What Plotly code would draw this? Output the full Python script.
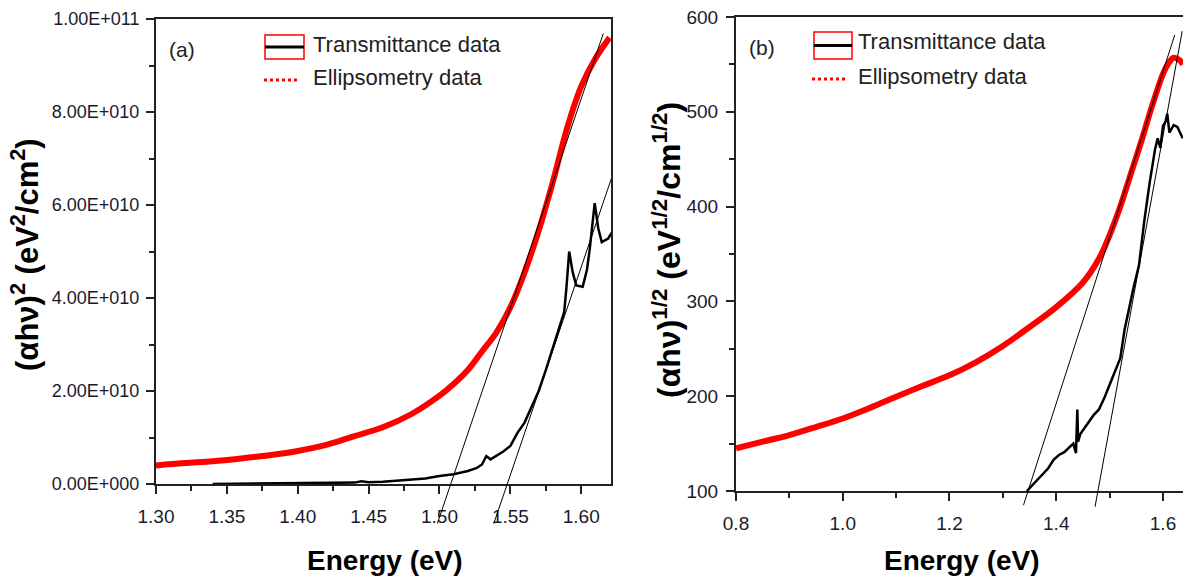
import plotly.graph_objects as go

W, H = 1183, 584

# ---------------- data : panel (a) ----------------
E_ell_a = [1.30, 1.32, 1.34, 1.36, 1.38, 1.40, 1.42, 1.44, 1.46, 1.48, 1.50, 1.51,
           1.52, 1.53, 1.54, 1.55, 1.56, 1.57, 1.58, 1.59, 1.60, 1.61, 1.62]
ell_a = [0.40e10, 0.45e10, 0.49e10, 0.55e10, 0.62e10, 0.71e10, 0.84e10, 1.03e10,
         1.22e10, 1.50e10, 1.90e10, 2.15e10, 2.45e10, 2.85e10, 3.25e10, 3.80e10,
         4.55e10, 5.45e10, 6.50e10, 7.65e10, 8.55e10, 9.15e10, 9.60e10]

E_tr_a = [1.340, 1.360, 1.380, 1.400, 1.420, 1.440, 1.445, 1.450, 1.460, 1.475, 1.490,
          1.500, 1.510, 1.520, 1.526, 1.530, 1.533, 1.536, 1.540, 1.545, 1.550, 1.555,
          1.560, 1.565, 1.570, 1.575, 1.580, 1.585, 1.588, 1.5895, 1.5915, 1.594,
          1.5965, 1.601, 1.604, 1.606, 1.6085, 1.6095, 1.612, 1.6145, 1.619, 1.622]
tr_a = [0.000e10, 0.005e10, 0.010e10, 0.015e10, 0.020e10, 0.030e10, 0.060e10, 0.040e10,
        0.050e10, 0.080e10, 0.120e10, 0.170e10, 0.210e10, 0.280e10, 0.340e10, 0.420e10,
        0.600e10, 0.530e10, 0.600e10, 0.700e10, 0.820e10, 1.100e10, 1.320e10, 1.650e10,
        2.000e10, 2.450e10, 2.950e10, 3.450e10, 3.700e10, 4.200e10, 5.000e10, 4.550e10,
        4.270e10, 4.240e10, 4.600e10, 5.050e10, 5.800e10, 6.040e10, 5.500e10, 5.200e10,
        5.280e10, 5.430e10]

# linear extrapolation (tangent) lines, panel (a)
tan1_a_E = [1.4985, 1.6156]
tan1_a_y = [-0.85e10, 9.69e10]
tan2_a_E = [1.5383, 1.6300]
tan2_a_y = [-0.85e10, 7.35e10]

# ---------------- data : panel (b) ----------------
E_ell_b = [0.80, 0.85, 0.90, 0.95, 1.00, 1.05, 1.10, 1.15, 1.20, 1.25, 1.30, 1.35,
           1.40, 1.45, 1.48, 1.50, 1.52, 1.54, 1.56, 1.58, 1.60, 1.61, 1.62, 1.63, 1.6375]
ell_b = [145, 152, 159, 167.5, 176.5, 187.5, 199.5, 211, 222, 236, 253, 273,
         294, 320, 345, 370, 400, 435, 470, 507, 540, 551, 557, 555, 550]

E_tr_b = [1.345, 1.355, 1.365, 1.375, 1.385, 1.395, 1.405, 1.415, 1.425, 1.432, 1.437,
          1.4395, 1.441, 1.445, 1.450, 1.460, 1.470, 1.480, 1.490, 1.500, 1.510, 1.520,
          1.528, 1.535, 1.545, 1.555, 1.565, 1.575, 1.585, 1.590, 1.595, 1.600, 1.605,
          1.608, 1.612, 1.620, 1.627, 1.637]
tr_b = [100, 106, 112, 118, 124, 133, 138, 141, 146, 150, 140, 186, 152, 160, 164, 172,
        180, 186, 198, 212, 226, 240, 270, 290, 315, 338, 385, 425, 460, 472, 462, 485,
        490, 498, 478, 486, 484, 472]

tan1_b_E = [1.3386, 1.622]
tan1_b_y = [85, 581]
tan2_b_E = [1.4727, 1.636]
tan2_b_y = [83.4, 585]

# ticks
xa_ticks = [1.30, 1.35, 1.40, 1.45, 1.50, 1.55, 1.60]
xa_text = ["1.30", "1.35", "1.40", "1.45", "1.50", "1.55", "1.60"]
ya_ticks = [0, 2e10, 4e10, 6e10, 8e10, 1e11]
ya_text = ["0.00E+000", "2.00E+010", "4.00E+010", "6.00E+010", "8.00E+010", "1.00E+011"]
xb_ticks = [0.8, 1.0, 1.2, 1.4, 1.6]
xb_text = ["0.8", "1.0", "1.2", "1.4", "1.6"]
yb_ticks = [100, 200, 300, 400, 500, 600]
yb_text = ["100", "200", "300", "400", "500", "600"]

# ---------------- layout geometry ----------------
def px(x):
    return x / W

def py(y):
    return 1 - y / H

xa_dom = [px(156), px(611)]
ya_dom = [py(484), py(19)]
xb_dom = [px(736), 1.0]
yb_dom = [py(491), py(17)]
xa_rng = [1.30, 1.621]
ya_rng = [0, 1e11]
xb_rng = [0.8, 1.6375]
yb_rng = [100, 600]

# overlay axes (same scale, extended downward) so that fit lines can pass below the x axis
def ext(dom, rng, new_bottom):
    lo = rng[0] - (dom[0] - new_bottom) / (dom[1] - dom[0]) * (rng[1] - rng[0])
    return [new_bottom, dom[1]], [lo, rng[1]]

ya3_dom, ya3_rng = ext(ya_dom, ya_rng, py(526))
yb4_dom, yb4_rng = ext(yb_dom, yb_rng, py(510))

REG = "Liberation Sans, Arial, sans-serif"
BOLD = "Liberation Sans, Arial, sans-serif"
TICKCOL = "#1a1a2e"
LINECOL = "#222222"
TXTCOL = "#222222"

fig = go.Figure()

RED = "#ff0000"
fig.add_trace(go.Scatter(x=E_ell_a, y=ell_a, mode="lines", line=dict(color=RED, width=6, shape="spline"),
                         xaxis="x", yaxis="y", showlegend=False))
fig.add_trace(go.Scatter(x=E_tr_a, y=tr_a, mode="lines", line=dict(color="black", width=2.5),
                         xaxis="x", yaxis="y", showlegend=False))
fig.add_trace(go.Scatter(x=E_ell_b, y=ell_b, mode="lines", line=dict(color=RED, width=6, shape="spline"),
                         xaxis="x2", yaxis="y2", showlegend=False))
fig.add_trace(go.Scatter(x=E_tr_b, y=tr_b, mode="lines", line=dict(color="black", width=2.5),
                         xaxis="x2", yaxis="y2", showlegend=False))
for ex, ey in [(tan1_a_E, tan1_a_y), (tan2_a_E, tan2_a_y)]:
    fig.add_trace(go.Scatter(x=ex, y=ey, mode="lines", line=dict(color="black", width=1),
                             xaxis="x3", yaxis="y3", showlegend=False))
for ex, ey in [(tan1_b_E, tan1_b_y), (tan2_b_E, tan2_b_y)]:
    fig.add_trace(go.Scatter(x=ex, y=ey, mode="lines", line=dict(color="black", width=1),
                             xaxis="x4", yaxis="y4", showlegend=False))

def axis(dom, rng, tv, tt, anchor, minor_dtick, mirror, fsize, standoff):
    return dict(domain=dom, range=rng, anchor=anchor, tickvals=tv, ticktext=tt,
                ticks="outside", ticklen=8, tickwidth=1.5, tickcolor=LINECOL,
                minor=dict(ticks="outside", ticklen=5, tickwidth=1.5, tickcolor=LINECOL,
                           dtick=minor_dtick, tick0=rng[0], showgrid=False),
                showline=True, linewidth=2, linecolor=LINECOL, mirror=mirror,
                showgrid=False, zeroline=False, automargin=False,
                tickfont=dict(family=REG, size=fsize, color=TICKCOL),
                ticklabelstandoff=standoff, fixedrange=True)

hidden = dict(visible=False, showgrid=False, zeroline=False, fixedrange=True)

fig.update_layout(
    width=W, height=H, margin=dict(l=0, r=0, t=0, b=0, pad=0),
    paper_bgcolor="white", plot_bgcolor="rgba(0,0,0,0)",
    xaxis=axis(xa_dom, xa_rng, xa_ticks, xa_text, "y", 0.025, True, 19, 6),
    yaxis=axis(ya_dom, ya_rng, ya_ticks, ya_text, "x", 1e10, True, 18, 3),
    xaxis2=axis(xb_dom, xb_rng, xb_ticks, xb_text, "y2", 0.1, True, 19, 6),
    yaxis2=axis(yb_dom, yb_rng, yb_ticks, yb_text, "x2", 50, False, 19, 4),
    xaxis3=dict(domain=xa_dom, range=xa_rng, anchor="y3", **hidden),
    yaxis3=dict(domain=ya3_dom, range=ya3_rng, anchor="x3", **hidden),
    xaxis4=dict(domain=xb_dom, range=xb_rng, anchor="y4", **hidden),
    yaxis4=dict(domain=yb4_dom, range=yb4_rng, anchor="x4", **hidden),
)

ann = []
def note(x, y, text, size, family=REG, bold=False, angle=0, xanchor="center", color=TXTCOL):
    ann.append(dict(xref="paper", yref="paper", x=px(x), y=py(y), text=text, showarrow=False,
                    xanchor=xanchor, yanchor="middle", textangle=angle,
                    font=dict(family=family, size=size, color=color,
                              weight="bold" if bold else "normal")))

# axis titles
note(385, 560, "Energy (eV)", 28, BOLD, True, color="black")
note(962, 560, "Energy (eV)", 28, BOLD, True, color="black")
note(25, 255, "(αhν)<sup>2</sup> (eV<sup>2</sup>/cm<sup>2</sup>)", 31, BOLD, True, -90, color="black")
note(667, 250, "(αhν)<sup>1/2</sup> (eV<sup>1/2</sup>/cm<sup>1/2</sup>)", 32, BOLD, True, -90, color="black")
# panel labels
note(182, 49, "(a)", 21)
note(762, 47, "(b)", 21)

shapes = []
# legends
for (bx0, bx1, by0, by1, tx, ty1, ty2, dx0, dx1, dy) in [
        (265, 304, 35, 59, 311, 44.5, 77.5, 264, 300, 80),
        (814, 852, 32, 59, 856, 42, 76.5, 812, 846, 79)]:
    shapes.append(dict(type="rect", xref="paper", yref="paper", x0=px(bx0), x1=px(bx1),
                       y0=py(by1), y1=py(by0), line=dict(color=RED, width=1.5)))
    shapes.append(dict(type="line", xref="paper", yref="paper", x0=px(bx0), x1=px(bx1),
                       y0=py((by0 + by1) / 2), y1=py((by0 + by1) / 2),
                       line=dict(color="black", width=3)))
    shapes.append(dict(type="line", xref="paper", yref="paper", x0=px(dx0), x1=px(dx1),
                       y0=py(dy), y1=py(dy), line=dict(color=RED, width=3, dash="dot")))
    note(tx, ty1, "Transmittance data", 22, xanchor="left")
    note(tx, ty2, "Ellipsometry data", 22, xanchor="left")

fig.update_layout(annotations=ann, shapes=shapes)
fig.write_html("out.html")
